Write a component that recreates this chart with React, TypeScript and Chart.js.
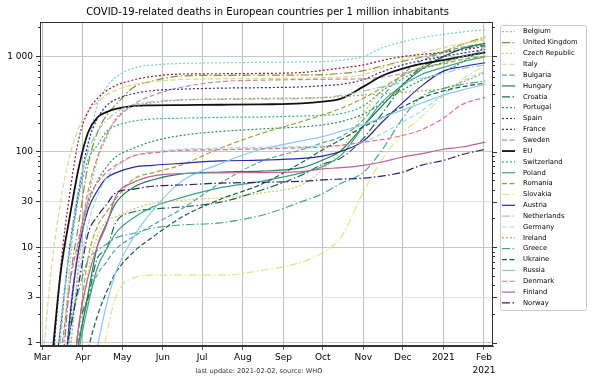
import React, { useEffect, useRef } from 'react';
import { Chart, registerables } from 'chart.js';
Chart.register(...registerables);

// days since 2020-03-01
const DAYS = [0, 7, 14, 21, 28, 35, 42, 49, 56, 70, 84, 106, 136, 167, 198, 214, 228, 245, 259, 275, 289, 306, 320, 338];

const MONTH_TICKS = [0, 31, 61, 92, 122, 153, 184, 214, 245, 275, 306, 337];
const MONTH_LABELS: (string | string[])[] = ['Mar', 'Apr', 'May', 'Jun', 'Jul', 'Aug', 'Sep', 'Oct', 'Nov', 'Dec', '2021', ['Feb', '2021']];
const Y_TICKS = [1, 3, 10, 30, 100, 1000];
const Y_LABELS = ['1', '3', '10', '30', '100', '1 000'];
const Y_MINOR = [2, 4, 5, 6, 7, 8, 9, 20, 40, 50, 60, 70, 80, 90, 200, 300, 400, 500, 600, 700, 800, 900, 2000];

const BELGIUM = [null, null, 0.35, 6.5, 37, 111, 313, 474, 601, 752, 807, 840, 852, 861, 870, 878, 905, 990, 1220, 1420, 1560, 1690, 1790, 1900];
const UK = [null, 0.05, 0.31, 4.2, 18.3, 73.6, 158, 240, 309, 475, 549, 620, 630, 632, 635, 640, 660, 705, 785, 885, 975, 1120, 1320, 1600];
const CZECH = [null, null, null, 0.09, 0.84, 5.5, 12.9, 18.8, 20.8, 25.2, 28.7, 31, 33, 37, 45, 65, 103, 252, 430, 636, 776, 1093, 1327, 1533];
const ITALY = [0.56, 6.1, 30, 91, 179, 263, 330, 392, 441, 506, 543, 569, 580, 584, 590, 595, 603, 640, 750, 920, 1077, 1228, 1346, 1470];
const BULGARIA = [null, null, 0.14, 0.43, 1.15, 2.9, 5.2, 7, 9.5, 13, 17, 25, 47, 79, 105, 124, 144, 216, 374, 647, 892, 1093, 1237, 1352];
const HUNGARY = [null, null, null, 0.4, 1.03, 3.3, 10.2, 17.7, 28.9, 42.6, 50.6, 58.5, 61.3, 62.6, 68, 82, 103, 186, 299, 505, 722, 990, 1196, 1371];
const CROATIA = [null, null, null, 0.25, 1.5, 3, 7.7, 9.6, 18, 23.5, 25, 26.4, 29.6, 39.5, 57, 74, 86, 138, 247, 494, 765, 988, 1185, 1309];
const PORTUGAL = [null, null, 0.05, 1.36, 11.6, 28.6, 49, 69, 88, 109, 128, 148, 163, 173, 182, 191, 207, 247, 321, 444, 557, 691, 860, 1262];
const SPAIN = [null, 0.36, 6.1, 36.6, 139, 264, 361, 435, 493, 566, 615, 650, 655, 660, 675, 710, 750, 810, 900, 990, 1040, 1100, 1160, 1270];
const FRANCE = [0.03, 0.29, 1.4, 10.4, 40, 124, 221, 303, 352, 406, 436, 452, 463, 468, 477, 491, 508, 569, 685, 811, 898, 994, 1071, 1177];
const SWEDEN = [null, null, 0.1, 2, 10.7, 39, 87, 150, 213, 316, 388, 473, 541, 561, 569, 572, 575, 580, 602, 660, 748, 854, 981, 1126];
const EU = [0.08, 0.6, 5.4, 21, 70, 160, 228, 260, 280, 302, 306, 308, 310, 313, 320, 335, 360, 480, 620, 740, 830, 910, 990, 1090];
const SWITZERLAND = [null, 0.12, 1.6, 9.3, 35, 83, 116, 163, 186, 209, 220, 224, 229, 231, 236, 241, 250, 302, 430, 581, 721, 860, 988, 1081];
const POLAND = [null, null, 0.08, 0.13, 0.82, 2.5, 6.1, 9.5, 14, 20.5, 26.3, 33, 42, 49, 60, 70, 92, 184, 329, 495, 639, 763, 868, 987];
const ROMANIA = [null, null, null, 0.2, 1.5, 7.8, 16.4, 23.4, 32, 52, 60, 72.5, 109, 155, 207, 243, 285, 363, 466, 622, 751, 829, 922, 1000];
const SLOVAKIA = [null, null, null, null, null, 0.18, 0.37, 1.2, 3, 4.8, 5.1, 5.1, 5.1, 5.7, 7, 8.8, 12.8, 38, 82, 156, 229, 385, 568, 806];
const AUSTRIA = [null, null, 0.11, 1.8, 9.7, 25, 39, 53, 60, 69, 72, 75.5, 80, 81.5, 85, 90, 101, 129, 202, 326, 483, 697, 775, 854];
const NETHERLANDS = [null, 0.06, 1.15, 10.3, 44, 101, 162, 212, 257, 312, 333, 349, 353, 355, 360, 368, 388, 431, 477, 529, 580, 661, 741, 810];
const GERMANY = [null, null, 0.14, 1.13, 5.5, 17.4, 34.6, 53, 69, 90.5, 99.4, 106, 109, 111, 113, 114.5, 117, 126.5, 154, 205, 265, 398, 542, 699];
const IRELAND = [null, null, 0.4, 0.8, 7.3, 32, 83, 140, 222, 298, 325, 348, 357, 362, 365, 369, 376, 392, 404, 418, 433, 459, 531, 673];
const GREECE = [null, null, 0.28, 1.4, 3.6, 7.4, 9.2, 10.8, 12.5, 14, 15.8, 17.1, 18, 21.5, 30, 36.4, 46.7, 60.7, 103, 224, 374, 458, 505, 551];
const UKRAINE = [null, null, null, 0.07, 0.3, 0.86, 1.9, 3.4, 5.4, 9, 12.7, 20.5, 31.8, 45.5, 77, 105, 134, 182, 227, 295, 364, 432, 477, 523];
const RUSSIA = [null, null, null, null, null, 0.29, 0.9, 2.5, 5.4, 13, 24, 48.6, 75, 106, 130, 144, 164, 192, 226, 274, 322, 390, 442, 507];
const DENMARK = [null, null, 0.7, 4.1, 12.4, 31, 47, 61, 72, 91, 97, 103, 105, 107, 110, 112, 117, 126, 134, 148, 169, 224, 310, 371];
const FINLAND = [null, null, null, 0.18, 1.6, 4.9, 10.2, 17, 34, 48, 55.6, 59, 60, 60.5, 62, 66, 68, 72, 78, 88, 95, 106, 112, 126];
const NORWAY = [null, null, 0.55, 1.3, 4.3, 14, 21, 28, 37, 40.6, 43.5, 44.8, 46.9, 47.8, 49, 50.7, 51.7, 52.8, 55.6, 61, 72, 81, 93, 106];

const NAMES = ['Belgium', 'United Kingdom', 'Czech Republic', 'Italy', 'Bulgaria', 'Hungary', 'Croatia', 'Portugal', 'Spain', 'France', 'Sweden', 'EU', 'Switzerland', 'Poland', 'Romania', 'Slovakia', 'Austria', 'Netherlands', 'Germany', 'Ireland', 'Greece', 'Ukraine', 'Russia', 'Denmark', 'Finland', 'Norway'];
const VALUES = [BELGIUM, UK, CZECH, ITALY, BULGARIA, HUNGARY, CROATIA, PORTUGAL, SPAIN, FRANCE, SWEDEN, EU, SWITZERLAND, POLAND, ROMANIA, SLOVAKIA, AUSTRIA, NETHERLANDS, GERMANY, IRELAND, GREECE, UKRAINE, RUSSIA, DENMARK, FINLAND, NORWAY];
const COLORS = ['#7ec8e3', '#8c8c2c', '#cfcf5a', '#d8d890', '#5aa5b0', '#1e7f55', '#1f6a50', '#2a8f50', '#8b1a3a', '#2e2e8f', '#c58aa0', '#111111', '#3aa88f', '#3aa585', '#a3a03c', '#e3e38a', '#2828a0', '#9fc3d3', '#a3d8e6', '#b3a35a', '#44aa88', '#1d5a45', '#8cc8ec', '#e0708c', '#c0609a', '#262670'];
const STYLES = ['dot', 'dashdot', 'dot', 'dash', 'dash', 'solid', 'dashdot', 'dot', 'dot', 'dot', 'dash', 'solid', 'dot', 'solid', 'dash', 'dashdot', 'solid', 'dashdot', 'dash', 'dot', 'dashdot', 'dash', 'solid', 'dash', 'solid', 'dashdot'];

const DASHES: Record<string, number[]> = {
  solid: [],
  dot: [2, 2],
  dash: [5, 2.5],
  dashdot: [8, 2.5, 1.5, 2.5],
};

const FONT = '"DejaVu Sans", sans-serif';

export default function App() {
  const ref = useRef<HTMLCanvasElement>(null);
  useEffect(() => {
    document.body.style.margin = '0';
    const canvas = ref.current;
    if (!canvas) return;

    const datasets = NAMES.map((name, i) => ({
      label: name,
      data: DAYS.map((d, j) => ({ x: d, y: VALUES[i][j] })).filter((p) => p.y !== null),
      borderColor: COLORS[i],
      backgroundColor: COLORS[i],
      borderWidth: name === 'EU' ? 1.8 : 1.2,
      borderDash: DASHES[STYLES[i]],
      pointRadius: 0,
      fill: false,
      cubicInterpolationMode: 'monotone' as const,
      order: NAMES.length - i,
    }));

    const extras = {
      id: 'extras',
      afterDatasetsDraw(chart: any) {
        const { ctx, chartArea: a, scales } = chart;
        const y = scales.y;
        ctx.save();
        ctx.strokeStyle = '#333';
        ctx.lineWidth = 1;
        ctx.setLineDash([]);
        ctx.strokeRect(Math.round(a.left) + 0.5, Math.round(a.top) + 0.5, Math.round(a.right - a.left) - 1, Math.round(a.bottom - a.top) - 1);
        ctx.beginPath();
        for (const v of Y_MINOR) {
          const py = Math.round(y.getPixelForValue(v)) + 0.5;
          if (py < a.top || py > a.bottom) continue;
          ctx.moveTo(a.left - 2, py);
          ctx.lineTo(a.left, py);
          ctx.moveTo(a.right, py);
          ctx.lineTo(a.right + 2, py);
        }
        for (const v of Y_TICKS) {
          const py = Math.round(y.getPixelForValue(v)) + 0.5;
          ctx.moveTo(a.right, py);
          ctx.lineTo(a.right + 4, py);
        }
        ctx.stroke();
        ctx.restore();
      },
      afterDraw(chart: any) {
        const { ctx } = chart;
        ctx.save();
        // title
        ctx.fillStyle = '#000';
        ctx.font = `10px ${FONT}`;
        ctx.textAlign = 'center';
        ctx.textBaseline = 'middle';
        ctx.fillText('COVID-19-related deaths in European countries per 1 million inhabitants', 267.5, 12.5);
        // footer
        ctx.fillStyle = '#333';
        ctx.font = `6.6px ${FONT}`;
        ctx.fillText('last update: 2021-02-02, source: WHO', 259, 371);
        // legend box
        const bx = 500.5, by = 25.5, bw = 86, bh = 285;
        ctx.beginPath();
        const r = 2;
        ctx.moveTo(bx + r, by);
        ctx.lineTo(bx + bw - r, by);
        ctx.quadraticCurveTo(bx + bw, by, bx + bw, by + r);
        ctx.lineTo(bx + bw, by + bh - r);
        ctx.quadraticCurveTo(bx + bw, by + bh, bx + bw - r, by + bh);
        ctx.lineTo(bx + r, by + bh);
        ctx.quadraticCurveTo(bx, by + bh, bx, by + bh - r);
        ctx.lineTo(bx, by + r);
        ctx.quadraticCurveTo(bx, by, bx + r, by);
        ctx.fillStyle = 'rgba(255,255,255,0.85)';
        ctx.fill();
        ctx.strokeStyle = '#cccccc';
        ctx.lineWidth = 1;
        ctx.stroke();
        ctx.font = `6.8px ${FONT}`;
        ctx.textAlign = 'left';
        ctx.textBaseline = 'middle';
        chart.data.datasets.forEach((ds: any, i: number) => {
          const yy = 31.7 + i * 10.85;
          ctx.beginPath();
          ctx.strokeStyle = ds.borderColor;
          ctx.lineWidth = ds.borderWidth;
          ctx.setLineDash(ds.borderDash || []);
          ctx.moveTo(502, yy);
          ctx.lineTo(515, yy);
          ctx.stroke();
          ctx.setLineDash([]);
          ctx.fillStyle = '#000';
          ctx.fillText(ds.label, 523, yy);
        });
        ctx.restore();
      },
    };

    const chart = new Chart(canvas, {
      type: 'line',
      data: { datasets },
      plugins: [extras],
      options: {
        animation: false,
        responsive: false,
        events: [],
        layout: { padding: { top: 22, right: 107, left: 0, bottom: 0 } },
        plugins: { legend: { display: false }, title: { display: false }, tooltip: { enabled: false } },
        scales: {
          x: {
            type: 'linear',
            min: -1.75,
            max: 343.9,
            afterBuildTicks: (s: any) => { s.ticks = MONTH_TICKS.map((v) => ({ value: v })); },
            afterFit: (s: any) => { s.height = 34; },
            grid: { color: '#b0b0b0', lineWidth: 0.8, drawTicks: true, tickLength: 4, tickColor: '#333' },
            border: { display: true, color: '#333' },
            ticks: {
              autoSkip: false,
              maxRotation: 0,
              padding: 2,
              color: '#000',
              font: { family: FONT, size: 9, lineHeight: 1.35 },
              callback: (v: any) => {
                const k = MONTH_TICKS.indexOf(Number(v));
                return k >= 0 ? MONTH_LABELS[k] : '';
              },
            },
          },
          y: {
            type: 'logarithmic',
            min: 0.924,
            max: 2280,
            afterBuildTicks: (s: any) => { s.ticks = Y_TICKS.map((v) => ({ value: v })); },
            afterFit: (s: any) => { s.width = 40; },
            grid: {
              color: (c: any) => ([1, 10, 100, 1000].includes(c.tick?.value) ? '#c8c8c8' : '#e0e0e0'),
              lineWidth: 1,
              drawTicks: true,
              tickLength: 4,
              tickColor: '#333',
            },
            border: { display: true, color: '#333' },
            ticks: {
              padding: 3,
              color: '#000',
              font: { family: FONT, size: 9 },
              callback: (v: any) => {
                const k = Y_TICKS.indexOf(Number(v));
                return k >= 0 ? Y_LABELS[k] : '';
              },
            },
          },
        },
      },
    } as any);
    return () => chart.destroy();
  }, []);
  return <canvas ref={ref} width={600} height={380} style={{ display: 'block' }} />;
}
